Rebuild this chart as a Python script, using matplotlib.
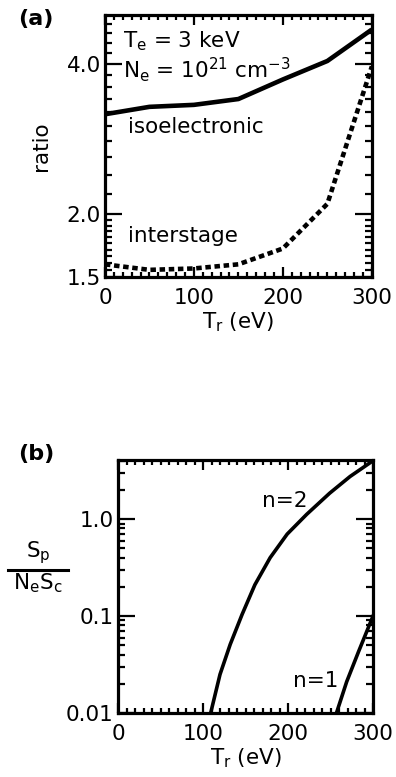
import numpy as np
import matplotlib
matplotlib.use("Agg")
import matplotlib.pyplot as plt
from matplotlib.ticker import FixedLocator, FixedFormatter, NullFormatter, MultipleLocator, LogLocator
from matplotlib.lines import Line2D

plt.rcParams['font.family'] = 'DejaVu Sans'
plt.rcParams['mathtext.fontset'] = 'dejavusans'
plt.rcParams['font.size'] = 15.5

# panel (a): ratio vs radiation temperature
tr_a = [0, 50, 100, 150, 200, 250, 300]
iso = [3.17, 3.28, 3.31, 3.40, 3.72, 4.05, 4.68]
inter = [1.59, 1.55, 1.56, 1.59, 1.71, 2.10, 3.95]

# panel (b): Sp / (Ne Sc)
tr_n2 = [109, 120, 132, 146, 161, 179, 199, 222, 249, 273, 300]
n2 = [0.01, 0.025, 0.051, 0.104, 0.21, 0.40, 0.70, 1.12, 1.85, 2.75, 4.0]
tr_n1 = [257, 269, 283, 300]
n1 = [0.01, 0.021, 0.043, 0.1]

fig = plt.figure(figsize=(3.96, 7.77), dpi=100)
ax1 = fig.add_axes([0.265, 0.6435, 0.674, 0.337])
ax2 = fig.add_axes([0.298, 0.0824, 0.644, 0.326])


def style(ax):
    for s in ax.spines.values():
        s.set_linewidth(2.3)
    ax.tick_params(which='both', direction='in', top=True, right=True, width=1.6)
    ax.tick_params(axis='x', which='major', length=7, pad=8)
    ax.tick_params(axis='x', which='minor', length=3.5)
    ax.tick_params(axis='y', which='major', length=12, pad=3)
    ax.tick_params(axis='y', which='minor', length=5)
    ax.set_xlim(0, 300)
    ax.xaxis.set_major_locator(MultipleLocator(100))
    ax.xaxis.set_minor_locator(MultipleLocator(10))
    ax.set_xlabel(r'T$_\mathregular{r}$ (eV)', labelpad=2)


# (a)
ax1.plot(tr_a, iso, color='black', lw=3.3, solid_capstyle='butt')
ax1.plot(tr_a, inter, color='black', lw=3.3, dashes=(1.2, 0.8))
ax1.set_yscale('log')
ax1.set_ylim(1.5, 5.0)
ax1.yaxis.set_major_locator(FixedLocator([1.5, 2.0, 4.0]))
ax1.yaxis.set_major_formatter(FixedFormatter(['1.5', '2.0', '4.0']))
minor_a = list(np.arange(1.55, 2.0, 0.05)) + list(np.arange(2.2, 5.0, 0.2))
ax1.yaxis.set_minor_locator(FixedLocator(minor_a))
ax1.yaxis.set_minor_formatter(NullFormatter())
style(ax1)
ax1.set_ylabel('ratio', labelpad=11)

ax1.text(0.067, 0.878, r'T$_\mathregular{e}$ = 3 keV', transform=ax1.transAxes)
ax1.text(0.067, 0.763, r'N$_\mathregular{e}$ = 10$^\mathregular{21}$ cm$^\mathregular{-3}$',
         transform=ax1.transAxes)
ax1.text(0.086, 0.55, 'isoelectronic', transform=ax1.transAxes)
ax1.text(0.086, 0.134, 'interstage', transform=ax1.transAxes)

# (b)
ax2.plot(tr_n2, n2, color='black', lw=2.6)
ax2.plot(tr_n1, n1, color='black', lw=2.6)
ax2.set_yscale('log')
ax2.set_ylim(0.01, 4.1)
ax2.yaxis.set_major_locator(FixedLocator([0.01, 0.1, 1.0]))
ax2.yaxis.set_major_formatter(FixedFormatter(['0.01', '0.1', '1.0']))
ax2.yaxis.set_minor_locator(LogLocator(base=10, subs=np.arange(2, 10)))
ax2.yaxis.set_minor_formatter(NullFormatter())
style(ax2)
ax2.text(169, 1.33, 'n=2')
ax2.text(206, 0.0186, 'n=1')

# fraction label for (b)
fig.text(38 / 396, 1 - 557 / 777, r'S$_\mathregular{p}$', ha='center', va='baseline')
fig.text(38 / 396, 1 - 589 / 777, r'N$_\mathregular{e}$S$_\mathregular{c}$', ha='center', va='baseline')
fig.add_artist(Line2D([8 / 396, 68 / 396], [1 - 570 / 777] * 2, color='black', lw=2.2,
                      transform=fig.transFigure))

fig.text(18 / 396, 1 - 25 / 777, '(a)', fontweight='bold', fontsize=16)
fig.text(18 / 396, 1 - 460 / 777, '(b)', fontweight='bold', fontsize=16)

fig.savefig('out.png', dpi=100)
